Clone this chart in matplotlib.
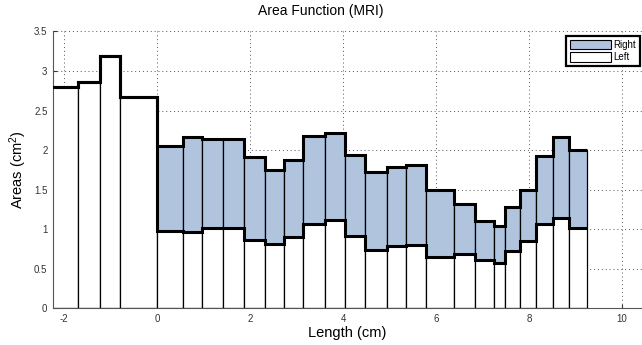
import matplotlib.pyplot as plt
import numpy as np
from matplotlib.patches import Patch
from matplotlib.ticker import FormatStrFormatter

plt.rcParams['font.family'] = ['Liberation Sans', 'DejaVu Sans']
plt.rcParams['mathtext.default'] = 'regular'
plt.rcParams['axes.unicode_minus'] = False

# section boundaries along the tract (cm)
edges = [-2.3, -1.70, -1.24, -0.80, 0.0, 0.55, 0.97, 1.42, 1.86, 2.32, 2.72,
         3.13, 3.62, 4.04, 4.48, 4.95, 5.36, 5.78, 6.39, 6.84, 7.25, 7.49,
         7.80, 8.15, 8.51, 8.85, 9.25]
# cross-section areas (cm^2)
left = [2.80, 2.865, 3.19, 2.675,
        0.98, 0.96, 1.01, 1.01, 0.86, 0.81, 0.90, 1.06, 1.115, 0.91, 0.73,
        0.79, 0.80, 0.65, 0.68, 0.605, 0.565, 0.725, 0.845, 1.07, 1.135, 1.01]
right = [0, 0, 0, 0,
         1.075, 1.20, 1.13, 1.125, 1.05, 0.94, 0.97, 1.12, 1.10, 1.03, 0.99,
         1.00, 1.01, 0.845, 0.64, 0.50, 0.48, 0.555, 0.645, 0.86, 1.035, 0.985]

edges = np.array(edges)
left = np.array(left)
right = np.array(right)
widths = np.diff(edges)
blue = '#b0c4de'

fig = plt.figure(figsize=(6.42, 3.45), dpi=100)
ax = fig.add_axes([0.0826, 0.107, 0.9174, 0.8017])

ax.bar(edges[:-1], left, width=widths, align='edge', color='white',
       edgecolor='black', linewidth=0.9, zorder=2)
ax.bar(edges[:-1], right, width=widths, bottom=left, align='edge',
       color=blue, edgecolor='black', linewidth=0.9, zorder=2)
# thick outlines along the two area profiles
ax.stairs(left, edges, baseline=None, color='black', linewidth=2.2, zorder=3)
ax.stairs(left + right, edges, baseline=None, color='black', linewidth=2.2, zorder=3)

ax.set_xlim(-2.24, 10.43)
ax.set_ylim(0, 3.5)
ax.set_xticks(np.arange(-2, 11, 2))
ax.set_yticks(np.arange(0, 3.51, 0.5))
ax.yaxis.set_major_formatter(FormatStrFormatter('%g'))
ax.grid(True, linestyle=(0, (1, 3)), color='#555555', linewidth=0.7)
ax.set_axisbelow(True)

for s in ['top', 'right']:
    ax.spines[s].set_visible(False)
for s in ['left', 'bottom']:
    ax.spines[s].set_color('#555555')
    ax.spines[s].set_linewidth(0.8)
ax.tick_params(direction='in', length=3, width=0.8, colors='#333333',
               labelsize=7, pad=4)

fig.text(0.5, 1 - 11 / 345, 'Area Function (MRI)', fontsize=10,
         ha='center', va='center')
ax.set_xlabel('Length (cm)', fontsize=10.5, labelpad=2)
ax.set_ylabel('Areas (cm$^2$)', fontsize=10.5, labelpad=4)

handles = [Patch(facecolor=blue, edgecolor='black', linewidth=0.8, label='Right'),
           Patch(facecolor='white', edgecolor='black', linewidth=0.8, label='Left')]
leg = ax.legend(handles=handles, loc='upper right', bbox_to_anchor=(0.996, 0.982),
                fontsize=7, fancybox=False, framealpha=1, edgecolor='black',
                handlelength=4.2, handleheight=1.1, handletextpad=0.3,
                labelspacing=0.25, borderpad=0.35, borderaxespad=0)
leg.get_frame().set_linewidth(1.6)

fig.savefig('out.png', dpi=100)
